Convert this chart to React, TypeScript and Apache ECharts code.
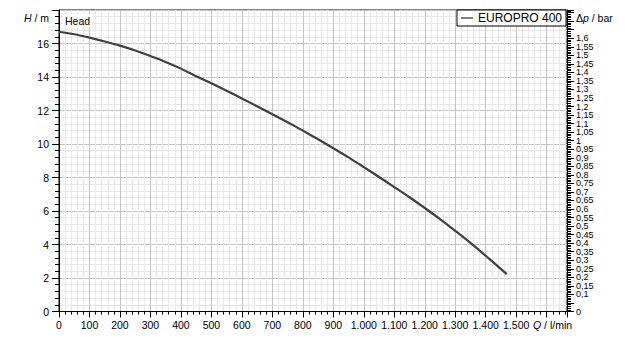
import React, { useEffect, useRef } from "react";
import * as echarts from "echarts";

// Flow Q in l/min
const flowQ: number[] = [0, 50, 100, 150, 200, 250, 300, 350, 400, 450, 500, 550, 600, 650, 700, 750, 800, 850, 900, 950, 1000, 1050, 1100, 1150, 1200, 1250, 1300, 1350, 1400, 1469];
// Head H in m
const headH: number[] = [16.7, 16.55, 16.35, 16.12, 15.87, 15.58, 15.25, 14.9, 14.5, 14.05, 13.62, 13.18, 12.72, 12.25, 11.78, 11.3, 10.8, 10.28, 9.75, 9.2, 8.62, 8.03, 7.43, 6.82, 6.18, 5.52, 4.82, 4.1, 3.33, 2.23];

const seriesName = "EUROPRO 400";
const xMax = 1666.67; // 100 m³/h
const hMax = 18;
const barPerMeter = 1 / 10.197;

const FONT = "Liberation Sans, Arial, sans-serif";

export default function App() {
  const ref = useRef<HTMLDivElement>(null);
  useEffect(() => {
    if (!ref.current) return;
    const chart = echarts.init(ref.current, undefined, { renderer: "svg" });
    const data = flowQ.map((q, i) => [q, headH[i]]);
    const grid = { left: 59, right: 58, top: 10, bottom: 28.5 };
    chart.setOption({
      animation: false,
      backgroundColor: "#ffffff",
      textStyle: { fontFamily: FONT },
      grid: { ...grid, show: true, borderColor: "#000", borderWidth: 1, backgroundColor: "transparent" },
      legend: {
        right: 59,
        top: 10,
        orient: "horizontal",
        backgroundColor: "#fff",
        borderColor: "#000",
        borderWidth: 1,
        borderRadius: 0,
        padding: [2, 4, 2, 4],
        itemWidth: 12,
        itemHeight: 1,
        itemGap: 4,
        icon: "rect",
        textStyle: { fontSize: 12, color: "#000", fontFamily: FONT },
        data: [{ name: seriesName, itemStyle: { color: "#000" } }],
      },
      xAxis: {
        type: "value",
        min: 0,
        max: xMax,
        interval: 100,
        axisLine: { show: true, lineStyle: { color: "#000", width: 1 } },
        axisTick: { show: true, length: 6, lineStyle: { color: "#000" } },
        minorTick: { show: true, splitNumber: 5, length: 3, lineStyle: { color: "#000" } },
        splitLine: { show: true, lineStyle: { color: "#c4c4c4", width: 1 } },
        minorSplitLine: { show: true, lineStyle: { color: "#e8e8e8", width: 1 } },
        axisLabel: {
          margin: 8,
          fontSize: 10.5,
          color: "#000",
          showMaxLabel: false,
          formatter: (v: number) => {
            const r = Math.round(v);
            if (r > 1500) return "";
            return r >= 1000 ? Math.floor(r / 1000) + "." + String(r % 1000).padStart(3, "0") : String(r);
          },
        },
      },
      yAxis: [
        {
          type: "value",
          min: 0,
          max: hMax,
          interval: 2,
          position: "left",
          axisLine: { show: true, lineStyle: { color: "#000", width: 1 } },
          axisTick: { show: true, length: 7, lineStyle: { color: "#000" } },
          minorTick: { show: true, splitNumber: 5, length: 4, lineStyle: { color: "#000" } },
          splitLine: { show: true, lineStyle: { color: "#c4c4c4", width: 1 } },
          minorSplitLine: { show: true, lineStyle: { color: "#e8e8e8", width: 1 } },
          axisLabel: {
            margin: 10,
            fontSize: 10.5,
            color: "#000",
            formatter: (v: number) => (v >= 18 ? "" : String(v)),
          },
        },
        {
          type: "value",
          min: 0,
          max: hMax * barPerMeter,
          interval: 0.05,
          position: "right",
          axisLine: { show: true, lineStyle: { color: "#000", width: 1 } },
          axisTick: { show: true, length: 7, lineStyle: { color: "#000" } },
          minorTick: { show: true, splitNumber: 5, length: 4, lineStyle: { color: "#000" } },
          splitLine: { show: false },
          minorSplitLine: { show: false },
          axisLabel: {
            margin: 9,
            fontSize: 9,
            lineHeight: 8,
            color: "#000",
            showMinLabel: true,
            showMaxLabel: false,
            hideOverlap: false,
            formatter: (v: number) => {
              if (v > 1.601) return "";
              return String(parseFloat(v.toFixed(2))).replace(".", ",");
            },
          },
        },
      ],
      graphic: [
        {
          type: "text",
          left: 63,
          top: 14,
          z: 100,
          style: {
            text: "Head",
            fontSize: 10.5,
            fill: "#000",
            fontFamily: FONT,
            backgroundColor: "#fff",
            padding: [1, 2, 1, 2],
          },
        },
        {
          type: "text",
          right: 576,
          top: 12,
          style: {
            text: "{i|H} / m",
            fontSize: 10.5,
            fill: "#000",
            fontFamily: FONT,
            rich: { i: { fontStyle: "italic", fontSize: 10.5, fontFamily: FONT } },
          },
        },
        {
          type: "text",
          left: 576,
          top: 12,
          style: {
            text: "Δ{i|p} / bar",
            fontSize: 10.5,
            fill: "#000",
            fontFamily: FONT,
            rich: { i: { fontStyle: "italic", fontSize: 10.5, fontFamily: FONT } },
          },
        },
        {
          type: "text",
          left: 533,
          top: 319,
          style: {
            text: "{i|Q} / l/min",
            fontSize: 10.5,
            fill: "#000",
            fontFamily: FONT,
            rich: { i: { fontStyle: "italic", fontSize: 10.5, fontFamily: FONT } },
          },
        },
      ],
      series: [
        {
          name: seriesName,
          type: "line",
          data,
          showSymbol: false,
          smooth: 0.3,
          yAxisIndex: 0,
          lineStyle: { color: "#404040", width: 2.2 },
          itemStyle: { color: "#404040" },
        },
      ],
    });
    return () => chart.dispose();
  }, []);
  return <div ref={ref} style={{ position: "fixed", left: 0, top: 0, width: 625, height: 340 }} />;
}
